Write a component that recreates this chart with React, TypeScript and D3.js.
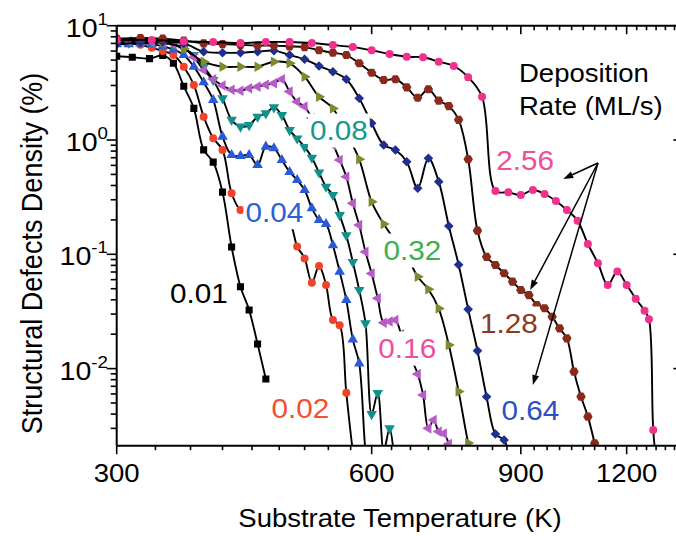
import React from "react";
import * as d3 from "d3";

type Pt = [number, number];

// Structural defects density (%) against substrate temperature (K), one array per deposition rate
const rate001: Pt[] = [[300,5.4],[313,5.3],[328,5.15],[340,5.5],[350,4.7],[360,2.95],[370,1.89],[380,0.82],[390,0.64],[400,0.35],[410,0.116],[420,0.052],[430,0.0326],[440,0.0164],[450,0.0081]];
const rate002: Pt[] = [[300,7.2],[310,7.0],[320,6.8],[330,6.4],[340,6.0],[350,5.54],[360,4.38],[370,3.03],[380,1.6],[390,1.035],[400,0.818],[410,0.342],[420,0.244],[430,0.235],[440,0.226],[450,0.217],[460,0.208],[470,0.2],[480,0.19],[490,0.117],[500,0.092],[510,0.0565],[520,0.079],[530,0.054],[540,0.0266],[550,0.024],[560,0.00615],[570,0.0019],[580,0.0008]];
const rate004: Pt[] = [[300,6.9],[310,6.9],[320,7.0],[330,6.9],[340,6.6],[350,6.2],[360,5.54],[370,4.38],[380,3.2],[390,2.24],[400,1.07],[410,0.739],[420,0.725],[430,0.739],[440,0.604],[450,0.874],[460,0.846],[470,0.668],[480,0.525],[490,0.447],[500,0.365],[510,0.253],[520,0.2],[530,0.184],[540,0.12],[550,0.0705],[560,0.0398],[570,0.018],[580,0.0111],[590,0.0019],[600,0.0008]];
const rate008: Pt[] = [[300,7.0],[310,7.1],[320,7.2],[330,7.1],[340,7.0],[350,6.8],[360,6.35],[370,5.54],[380,4.38],[390,3.35],[400,2.32],[410,1.5],[420,1.31],[430,1.35],[440,1.6],[450,1.71],[460,1.93],[470,1.65],[480,1.22],[490,1.03],[500,0.87],[510,0.7],[520,0.52],[530,0.39],[540,0.33],[550,0.22],[560,0.147],[570,0.0857],[580,0.0487],[590,0.0249],[600,0.004],[610,0.0061],[620,0.0019],[630,0.003],[640,0.0012]];
const rate016: Pt[] = [[300,7.3],[310,7.3],[320,7.3],[330,7.2],[340,7.1],[350,6.9],[360,6.4],[370,5.3],[380,4.1],[390,3.4],[400,3.0],[410,2.75],[420,2.7],[430,2.83],[440,2.93],[450,3.05],[460,3.13],[470,3.4],[480,2.65],[490,2.16],[500,1.96],[510,1.56],[520,1.27],[530,1.04],[540,0.904],[550,0.668],[560,0.477],[570,0.279],[580,0.18],[590,0.105],[600,0.068],[610,0.0412],[620,0.0252],[630,0.0258],[640,0.0266],[650,0.02],[660,0.0145],[670,0.0116],[680,0.00897],[690,0.00588],[700,0.003],[710,0.00355],[720,0.00281],[730,0.0027],[740,0.00219],[750,0.0012]];
const rate032: Pt[] = [[300,7.4],[320,7.4],[340,7.2],[360,6.3],[380,4.84],[400,4.38],[420,4.38],[440,4.38],[460,4.84],[480,4.69],[500,3.58],[520,2.39],[540,1.89],[560,1.15],[580,0.678],[600,0.288],[620,0.184],[640,0.131],[660,0.0966],[680,0.0636],[700,0.0494],[720,0.0335],[740,0.0161],[760,0.0063],[780,0.00223],[800,0.001]];
const rate064: Pt[] = [[300,6.9],[320,7.1],[340,7.2],[360,7.0],[380,5.93],[400,5.8],[420,5.8],[440,5.93],[460,6.05],[480,5.54],[500,5.08],[520,4.44],[540,3.96],[560,3.4],[580,2.32],[600,1.4],[620,0.904],[640,0.818],[660,0.646],[680,0.378],[700,0.692],[720,0.432],[740,0.177],[760,0.081],[780,0.033],[800,0.0143],[820,0.00568],[840,0.00268],[860,0.00237],[880,0.0012]];
const rate128: Pt[] = [[300,7.7],[320,7.8],[340,7.7],[360,7.4],[380,7.0],[400,6.9],[420,6.8],[440,6.7],[460,6.7],[480,6.6],[500,6.5],[520,6.1],[540,5.8],[560,5.54],[580,4.69],[600,3.88],[620,3.35],[640,3.4],[660,2.89],[680,2.34],[700,2.78],[720,2.21],[740,1.98],[760,1.5],[780,0.678],[800,0.161],[820,0.095],[840,0.0806],[860,0.0682],[880,0.0576],[900,0.0487],[920,0.044],[940,0.036],[960,0.0337],[980,0.0284],[1000,0.0225],[1020,0.0184],[1040,0.0094],[1060,0.00568],[1080,0.0038],[1100,0.00222],[1120,0.0012]];
const rate256: Pt[] = [[300,7.5],[330,7.5],[360,7.3],[390,7.2],[420,7.05],[450,7.2],[480,7.2],[510,7.05],[540,6.77],[570,6.5],[600,6.1],[630,5.65],[660,5.35],[690,5.29],[720,4.84],[750,4.44],[780,3.54],[810,2.39],[840,0.358],[870,0.349],[900,0.33],[930,0.365],[960,0.337],[990,0.293],[1020,0.244],[1050,0.197],[1080,0.123],[1110,0.0835],[1140,0.054],[1170,0.0707],[1200,0.054],[1230,0.0409],[1260,0.0321],[1275,0.027],[1290,0.0029],[1305,0.0012]];

const rateNames = ["0.01", "0.02", "0.04", "0.08", "0.16", "0.32", "0.64", "1.28", "2.56"];
const rateSeries = [rate001, rate002, rate004, rate008, rate016, rate032, rate064, rate128, rate256];
const markerKinds = ["square", "circle", "triUp", "triDown", "triLeft", "triRight", "diamond", "hexagon", "circle"];
const markerColors = ["#000000", "#f2432a", "#2b5ad6", "#12908c", "#b65bc8", "#7b8b2e", "#1f2f8e", "#8a2a1c", "#f2308e"];
const labelColors = ["#000000", "#f2502e", "#2f5fd2", "#18968f", "#ec4f9d", "#3cb04e", "#2c50c2", "#8b3824", "#f04e9a"];
// where each rate name sits (T, density) – left end of the text baseline
const labelAnchors: Pt[] = [[346.8, 0.0375], [457, 0.0037], [425.7, 0.193], [507.4, 1.0], [611, 0.0124], [619.5, 0.0892], [854, 0.00355], [805.6, 0.0205], [842, 0.5463]];

// arrows from the legend note towards the three fastest rates
const arrowTail: Pt = [1110, 0.629];
const arrowTips: Pt[] = [[1010, 0.456], [923, 0.0487], [930, 0.00719]];

const xMajorTicks = [300, 600, 900, 1200];
const yMajorTicks = [0.01, 0.1, 1, 10];
const yTickExponents = ["-2", "-1", "0", "1"];

const FONT = "'Liberation Sans', Arial, Helvetica, sans-serif";
const SX = 1.1;

function markerShape(kind: string): { d: string; rot: number } {
  switch (kind) {
    case "square":
      return { d: d3.symbol(d3.symbolSquare, 50)() as string, rot: 0 };
    case "circle":
      return { d: d3.symbol(d3.symbolCircle, 50)() as string, rot: 0 };
    case "triUp":
      return { d: d3.symbol(d3.symbolTriangle, 48)() as string, rot: 0 };
    case "triDown":
      return { d: d3.symbol(d3.symbolTriangle, 48)() as string, rot: 180 };
    case "triLeft":
      return { d: d3.symbol(d3.symbolTriangle, 48)() as string, rot: -90 };
    case "triRight":
      return { d: d3.symbol(d3.symbolTriangle, 48)() as string, rot: 90 };
    case "diamond":
      return { d: d3.symbol(d3.symbolSquare, 46)() as string, rot: 45 };
    default: {
      const r = 4.7;
      const pts: Pt[] = d3.range(6).map((i) => [r * Math.cos((Math.PI / 3) * i), r * Math.sin((Math.PI / 3) * i)]);
      return { d: (d3.line()(pts) as string) + "Z", rot: 0 };
    }
  }
}

function digitWidth(s: string, fs: number) {
  let w = 0;
  for (const c of s) w += c === "." ? 0.278 : 0.556;
  return w * fs * SX;
}

export default function App() {
  const left = 116.7, top = 25.7, bottom = 445.7;
  const yMin = Math.pow(10, -2.6745);
  const x = d3.scaleLog().domain([300, 1400]).range([left, left + 847 * Math.log10(1400 / 300)]);
  const y = d3.scaleLog().domain([yMin, 10]).range([bottom, top]);
  const right = x(1400);

  const line = d3
    .line<Pt>()
    .x((d) => x(d[0]))
    .y((d) => y(d[1]))
    .curve(d3.curveCatmullRom.alpha(0.5));

  const xMinor = d3.range(0, 34).map((i) => 300 + (i * 100) / 3).filter((v, i) => i % 9 !== 0 && v < 1400);
  const yMinor: number[] = [];
  for (let e = -3; e <= 0; e++) for (let m = 2; m <= 9; m++) {
    const v = m * Math.pow(10, e);
    if (v > yMin && v < 10) yMinor.push(v);
  }

  const labelFs = 27;

  return (
    <svg width={676} height={536} viewBox="0 0 676 536" style={{ position: "absolute", left: 0, top: 0 }} fontFamily={FONT}>
      <rect x={0} y={0} width={676} height={536} fill="#ffffff" />
      <defs>
        <clipPath id="plotArea">
          <rect x={left} y={top} width={right - left} height={bottom - top} />
        </clipPath>
      </defs>

      <g clipPath="url(#plotArea)">
        {rateSeries.map((data, si) => {
          const shape = markerShape(markerKinds[si]);
          return (
            <g key={rateNames[si]}>
              <path d={line(data) as string} fill="none" stroke="#000" strokeWidth={1.9} strokeLinejoin="round" />
              {data.map((p, i) => (
                <path key={i} d={shape.d} transform={`translate(${x(p[0])},${y(p[1])}) rotate(${shape.rot})`} fill={markerColors[si]} />
              ))}
            </g>
          );
        })}
      </g>

      {/* rate names with white backing */}
      {rateNames.map((name, i) => {
        const px = x(labelAnchors[i][0]);
        const py = y(labelAnchors[i][1]);
        const w = digitWidth(name, labelFs);
        return (
          <g key={name}>
            <rect x={px - 2} y={py - labelFs * 0.98} width={w + 4} height={labelFs * 1.26} fill="#ffffff" />
            <text transform={`translate(${px},${py}) scale(${SX},1)`} fontSize={labelFs} fill={labelColors[i]}>
              {name}
            </text>
          </g>
        );
      })}

      {/* legend note */}
      <text transform={`translate(519,82) scale(${SX},1)`} fontSize={25} fill="#000">Deposition</text>
      <text transform={`translate(519,115) scale(${SX},1)`} fontSize={25} fill="#000">Rate (ML/s)</text>

      {/* arrows */}
      {arrowTips.map((tip, i) => {
        const x0 = x(arrowTail[0]), y0 = y(arrowTail[1]);
        const x1 = x(tip[0]), y1 = y(tip[1]);
        const ang = Math.atan2(y1 - y0, x1 - x0);
        const L = 10, Wd = 3.5;
        const bx = x1 - L * Math.cos(ang), by = y1 - L * Math.sin(ang);
        const nx = -Math.sin(ang), ny = Math.cos(ang);
        return (
          <g key={i}>
            <line x1={x0} y1={y0} x2={bx} y2={by} stroke="#000" strokeWidth={1.5} />
            <path d={`M${x1},${y1}L${bx + nx * Wd},${by + ny * Wd}L${bx - nx * Wd},${by - ny * Wd}Z`} fill="#000" />
          </g>
        );
      })}

      {/* frame */}
      <g stroke="#000" strokeWidth={2} fill="none">
        <line x1={left} y1={bottom} x2={right} y2={bottom} />
        <line x1={left} y1={top} x2={right} y2={top} />
        <line x1={left} y1={top} x2={left} y2={bottom} />
        <line x1={right} y1={top} x2={right} y2={bottom} />
      </g>
      <g stroke="#000" strokeWidth={1.6}>
        {xMajorTicks.map((t) => (
          <g key={t}>
            <line x1={x(t)} x2={x(t)} y1={bottom} y2={bottom + 8.5} />
            <line x1={x(t)} x2={x(t)} y1={top} y2={top + 8.5} />
          </g>
        ))}
        {xMinor.map((t) => (
          <g key={t}>
            <line x1={x(t)} x2={x(t)} y1={bottom} y2={bottom + 4.5} />
            <line x1={x(t)} x2={x(t)} y1={top} y2={top + 4.5} />
          </g>
        ))}
        {yMajorTicks.map((v) => (
          <g key={v}>
            <line x1={left} x2={left - 10} y1={y(v)} y2={y(v)} />
            <line x1={right} x2={right - 10} y1={y(v)} y2={y(v)} />
          </g>
        ))}
        {yMinor.map((v) => (
          <g key={v}>
            <line x1={left} x2={left - 6} y1={y(v)} y2={y(v)} />
            <line x1={right} x2={right - 6} y1={y(v)} y2={y(v)} />
          </g>
        ))}
      </g>

      {/* tick labels */}
      {xMajorTicks.map((t) => (
        <text key={t} transform={`translate(${x(t)},482) scale(${SX},1)`} textAnchor="middle" fontSize={25} fill="#000">
          {t}
        </text>
      ))}
      {yMajorTicks.map((v, i) => (
        <text key={v} transform={`translate(108,${y(v) + 11}) scale(${SX},1)`} textAnchor="end" fontSize={26} fill="#000">
          10
          <tspan fontSize={17} dy={-12}>{yTickExponents[i]}</tspan>
        </text>
      ))}

      {/* axis titles */}
      <text transform={`translate(400,527) scale(${SX},1)`} textAnchor="middle" fontSize={25} fill="#000">
        Substrate Temperature (K)
      </text>
      <text transform={`translate(41.7,253.4) rotate(-90) scale(1,${SX})`} textAnchor="middle" fontSize={27} fill="#000">
        Structural Defects Density (%)
      </text>
    </svg>
  );
}
